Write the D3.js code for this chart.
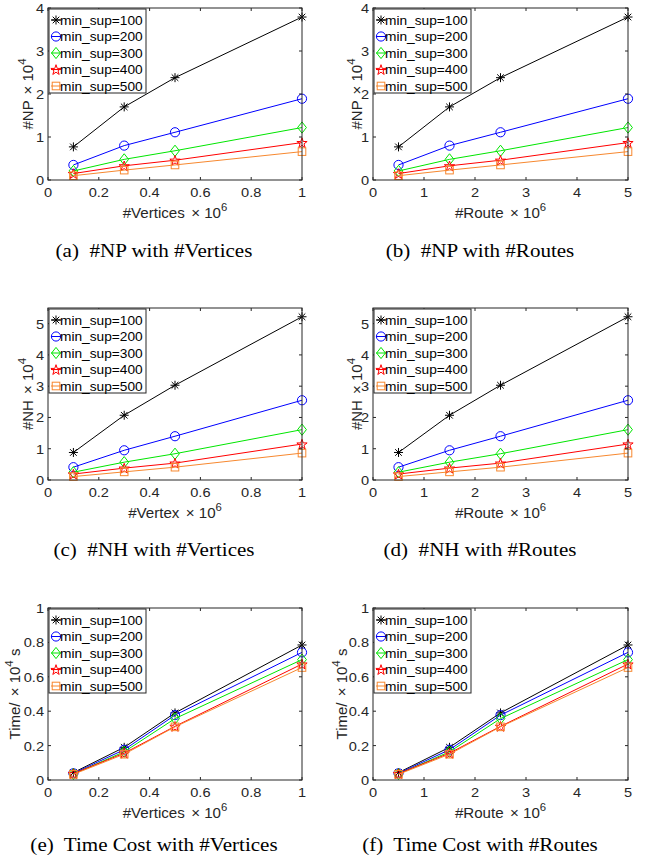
<!DOCTYPE html>
<html>
<head>
<meta charset="utf-8">
<script src="https://cdn.jsdelivr.net/npm/d3@7"></script>
<style>
  body { margin: 0; background: #fff; }
  svg { display: block; }
</style>
</head>
<body>
<script>
var w = 647,
    h = 867;

// data
var vertices = [0.1, 0.3, 0.5, 1];
var routes = [0.5, 1.5, 2.5, 5];
var supports = ["min_sup=100", "min_sup=200", "min_sup=300", "min_sup=400", "min_sup=500"];

var npValues = [
  [0.77, 1.70, 2.38, 3.79],
  [0.35, 0.80, 1.11, 1.89],
  [0.21, 0.48, 0.68, 1.22],
  [0.15, 0.33, 0.46, 0.87],
  [0.10, 0.23, 0.35, 0.66]
];
var nhValues = [
  [0.88, 2.07, 3.03, 5.22],
  [0.41, 0.95, 1.40, 2.55],
  [0.25, 0.57, 0.84, 1.61],
  [0.19, 0.38, 0.54, 1.15],
  [0.11, 0.26, 0.41, 0.86]
];
var timeValues = [
  [0.043, 0.190, 0.390, 0.785],
  [0.039, 0.176, 0.377, 0.742],
  [0.035, 0.164, 0.357, 0.700],
  [0.037, 0.156, 0.312, 0.674],
  [0.033, 0.150, 0.309, 0.654]
];

var xTicksVertices = [0, 0.2, 0.4, 0.6, 0.8, 1];
var xTicksRoutes = [0, 1, 2, 3, 4, 5];
var yTicksNP = [0, 1, 2, 3, 4];
var yTicksNH = [0, 1, 2, 3, 4, 5];
var yTicksTime = [0, 0.2, 0.4, 0.6, 0.8, 1];

var captions = [
  "(a) #NP with #Vertices", "(b) #NP with #Routes",
  "(c) #NH with #Vertices", "(d) #NH with #Routes",
  "(e) Time Cost with #Vertices", "(f) Time Cost with #Routes"
];

var colors = ["#000000", "#0000ff", "#00e600", "#ff0000", "#f7882f"];
var markers = ["asterisk", "circle", "diamond", "star", "square"];

var SX = 1.08;   // the figure is slightly stretched horizontally
var sans = "Liberation Sans, Arial, Helvetica, sans-serif";
var serif = "Liberation Serif, Times New Roman, serif";
var axisCol = "#262626";

var svg = d3.select("body").append("svg")
  .attr("width", w)
  .attr("height", h)
  .style("background", "#fff");

// put text inside a stretched group so glyphs get wider but not taller
function stext(parent, x, y, str, size, anchor, font, rotate) {
  var g = parent.append("g")
    .attr("transform", "translate(" + x + "," + y + ")" + (rotate ? " rotate(-90)" : " scale(" + SX + ",1)"));
  return g.append("text")
    .attr("text-anchor", anchor || "middle")
    .attr("font-family", font || sans)
    .attr("font-size", size)
    .attr("fill", font == serif ? "#000" : axisCol)
    .text(str);
}

function marker(g, type, x, y, col) {
  var m = g.append("g").attr("transform", "translate(" + x + "," + y + ")")
    .attr("fill", "none").attr("stroke", col).attr("stroke-width", 1);
  if (type == "asterisk") {
    m.append("path").attr("d", "M-4.5,0H4.5M0,-4.5V4.5M-3.3,-3.3L3.3,3.3M-3.3,3.3L3.3,-3.3");
  } else if (type == "circle") {
    m.append("circle").attr("r", 4.6);
  } else if (type == "diamond") {
    m.append("path").attr("d", "M0,-5.6L4.4,0L0,5.6L-4.4,0Z");
  } else if (type == "star") {
    var pts = d3.range(10).map(function(i) {
      var r = i % 2 ? 2.1 : 5.4, a = Math.PI * i / 5 - Math.PI / 2;
      return [r * Math.cos(a), r * Math.sin(a) + 0.6];
    });
    m.append("path").attr("d", "M" + pts.join("L") + "Z");
  } else {
    m.append("rect").attr("x", -3.8).attr("y", -3.8).attr("width", 7.6).attr("height", 7.6);
  }
}

function drawPanel(p) {
  var g = svg.append("g");
  var x = d3.scaleLinear().domain(p.xDomain).range([p.left, p.right]);
  var y = d3.scaleLinear().domain(p.yDomain).range([p.bottom, p.top]);

  // series
  var line = d3.line()
    .x(function(d) { return x(d[0]); })
    .y(function(d) { return y(d[1]); });

  p.values.forEach(function(vals, i) {
    var pts = p.xs.map(function(xv, j) { return [xv, vals[j]]; });
    g.append("path").datum(pts)
      .attr("d", line)
      .attr("fill", "none")
      .attr("stroke", colors[i])
      .attr("stroke-width", 1);
    pts.forEach(function(d) { marker(g, markers[i], x(d[0]), y(d[1]), colors[i]); });
  });

  // axes box with inward ticks on all sides
  var tl = 3;
  var ax = g.append("g").attr("stroke", axisCol).attr("stroke-width", 1).attr("fill", "none");
  ax.append("rect")
    .attr("x", p.left).attr("y", p.top)
    .attr("width", p.right - p.left).attr("height", p.bottom - p.top);
  p.xTicks.forEach(function(t) {
    ax.append("line").attr("x1", x(t)).attr("x2", x(t)).attr("y1", p.bottom).attr("y2", p.bottom - tl);
    ax.append("line").attr("x1", x(t)).attr("x2", x(t)).attr("y1", p.top).attr("y2", p.top + tl);
    stext(g, x(t), p.bottom + 17, d3.format("~g")(t), 13.5);
  });
  p.yTicks.forEach(function(t) {
    ax.append("line").attr("x1", p.left).attr("x2", p.left + tl).attr("y1", y(t)).attr("y2", y(t));
    ax.append("line").attr("x1", p.right).attr("x2", p.right - tl).attr("y1", y(t)).attr("y2", y(t));
    stext(g, p.left - 4, y(t) + 5, d3.format("~g")(t), 13.5, "end");
  });

  // axis labels
  var xl = stext(g, (p.left + p.right) / 2, p.bottom + 38, p.xLabel, 14);
  xl.append("tspan").attr("dx", 2).text("\u00d7 10");
  xl.append("tspan").attr("dy", -7).attr("font-size", 10.5).text("6");

  var yl = stext(g, p.left - p.yLabelOff, (p.top + p.bottom) / 2, p.yLabel, 15, "middle", sans, true);
  yl.append("tspan").attr("dx", 2).text("\u00d7 10");
  yl.append("tspan").attr("dy", -7).attr("font-size", 11.5).text("4");
  if (p.yUnit) yl.append("tspan").attr("dy", 7).text(" " + p.yUnit);

  // legend
  var lx = p.left + 1, ly = p.top + 1;
  g.append("rect")
    .attr("x", lx).attr("y", ly).attr("width", 97).attr("height", 84)
    .attr("fill", "#fff").attr("stroke", axisCol).attr("stroke-width", 1);
  supports.forEach(function(s, i) {
    var yy = ly + 11 + i * 16.5;
    g.append("line").attr("x1", lx + 2).attr("x2", lx + 12).attr("y1", yy).attr("y2", yy)
      .attr("stroke", colors[i]).attr("stroke-width", 1);
    marker(g, markers[i], lx + 7, yy, colors[i]);
    stext(g, lx + 11, yy + 4.5, s, 12.7, "start").attr("fill", "#000");
  });

  // caption
  stext(g, p.capX, p.bottom + p.capOff, p.caption.replace(") ", ")\u00a0 "), 19.5, "middle", serif);
}

var rows = [
  { top: 8, bottom: 180, yDomain: [0, 4], yTicks: yTicksNP, values: npValues, yLabel: "#NP ", capOff: 77, yOff: [15, 11] },
  { top: 308, bottom: 480, yDomain: [0, 5.5], yTicks: yTicksNH, values: nhValues, yLabel: "#NH ", capOff: 76, yOff: [15, 11] },
  { top: 608, bottom: 780, yDomain: [0, 1], yTicks: yTicksTime, values: timeValues, yLabel: "Time/ ", yUnit: "s", capOff: 71, yOff: [28, 26] }
];
var cols = [
  { left: 48, right: 302, xDomain: [0, 1], xTicks: xTicksVertices, xs: vertices, capX: 154 },
  { left: 373, right: 628, xDomain: [0, 5], xTicks: xTicksRoutes, xs: routes, capX: 480 }
];
var xLabels = [["#Vertices ", "#Route "], ["#Vertex ", "#Route "], ["#Vertices ", "#Route "]];

rows.forEach(function(r, ri) {
  cols.forEach(function(c, ci) {
    drawPanel({
      left: c.left, right: c.right, top: r.top, bottom: r.bottom,
      xDomain: c.xDomain, yDomain: r.yDomain,
      xTicks: c.xTicks, yTicks: r.yTicks,
      xs: c.xs, values: r.values,
      xLabel: xLabels[ri][ci], yLabel: r.yLabel, yUnit: r.yUnit, yLabelOff: r.yOff[ci],
      caption: captions[ri * 2 + ci], capX: c.capX, capOff: r.capOff
    });
  });
});
</script>
</body>
</html>
